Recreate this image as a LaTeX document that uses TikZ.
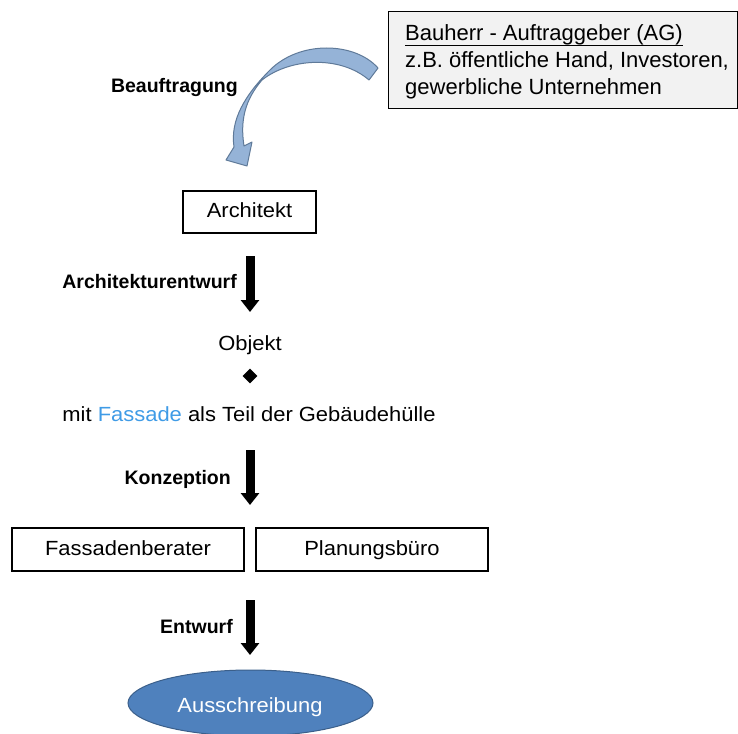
\documentclass[tikz,border=0pt]{standalone}
\usepackage{fontspec}
\setmainfont{Liberation Sans}
\newfontfamily\widefont[FakeStretch=1.07]{Liberation Sans}
\usetikzlibrary{shapes.geometric,arrows.meta}

\definecolor{boxgray}{HTML}{F2F2F2}
\definecolor{arcfill}{HTML}{95B3D7}
\definecolor{arcline}{HTML}{5F7A99}
\definecolor{facade}{HTML}{3F9BE6}
\definecolor{ovalfill}{HTML}{4F81BD}
\definecolor{ovalline}{HTML}{3B5F8A}

\tikzset{
  plain/.style={font=\widefont\fontsize{20.5}{24}\selectfont, inner sep=0pt},
  steplabel/.style={font=\bfseries\fontsize{19.5}{23}\selectfont, inner sep=0pt, anchor=base east},
  stagebox/.style={draw, line width=1.2pt, plain, text height=15pt, text depth=4pt},
  flowarrow/.style={line width=9pt, -{Triangle[width=18pt,length=12pt]}},
  boxtext/.style={font=\fontsize{22}{27}\selectfont, inner sep=0pt, anchor=base west}
}

\begin{document}
\begin{tikzpicture}[x=1pt,y=-1pt]
\useasboundingbox (0,0) rectangle (738,733);

% client box
\node[draw, line width=1.2pt, fill=boxgray, minimum width=349pt, minimum height=97pt,
      anchor=north west, inner sep=0pt] (client) at (388,11) {};
\node[boxtext] (c1) at (405,41) {Bauherr - Auftraggeber (AG)};
\draw[line width=0.9pt] ([yshift=-4pt]c1.base west) -- ([yshift=-4pt]c1.base east);
\node[boxtext] (c2) at (405,68) {z.B. öffentliche Hand, Investoren,};
\node[boxtext] (c3) at (405,95) {gewerbliche Unternehmen};

% curved commissioning arrow (ribbon narrowing where it turns down)
\draw[fill=arcfill, draw=arcline, line width=1pt, line join=round]
  (378,68) .. controls (355,42) and (300,40) .. (270,70)
  .. controls (245,95) and (230,120) .. (234,147)
  -- (226,160) -- (247,166) -- (252,142) -- (244,146)
  .. controls (240,120) and (245,100) .. (262,80)
  .. controls (290,58) and (340,55) .. (369,80) -- cycle;
\node[steplabel] (lbl1) at (238,93) {Beauftragung};

% architect
\node[stagebox, minimum width=133pt, minimum height=42pt] (arch) at (249.5,212) {Architekt};

\coordinate (a1s) at (250,256);
\coordinate (a1e) at (250,312);
\draw[flowarrow] (a1s) -- (a1e);
\node[steplabel] (lbl2) at (237,288) {Architekturentwurf};

% object
\node[plain, anchor=base] (obj) at (250,350) {Objekt};
\node[diamond, fill=black, minimum size=15pt, inner sep=0pt] (dia) at (250,376) {};
\node[plain, anchor=base] (facade) at (249,421) {mit \textcolor{facade}{Fassade} als Teil der Gebäudehülle};

\coordinate (a2s) at (250,450);
\coordinate (a2e) at (250,505);
\draw[flowarrow] (a2s) -- (a2e);
\node[steplabel] (lbl3) at (231,484) {Konzeption};

% planners
\node[stagebox, minimum width=232pt, minimum height=43pt] (berater) at (128,549.5) {Fassadenberater};
\node[stagebox, minimum width=232pt, minimum height=43pt] (buero) at (372,549.5) {Planungsbüro};

\coordinate (a3s) at (250,600);
\coordinate (a3e) at (250,655);
\draw[flowarrow] (a3s) -- (a3e);
\node[steplabel] (lbl4) at (233,633) {Entwurf};

% tender
\node[ellipse, fill=ovalfill, draw=ovalline, line width=1pt, minimum width=245pt,
      minimum height=66pt, inner sep=0pt] (tender) at (250.5,703) {};
\node[plain, text=white, anchor=base] (tendertext) at (250,712) {Ausschreibung};
\end{tikzpicture}
\end{document}
